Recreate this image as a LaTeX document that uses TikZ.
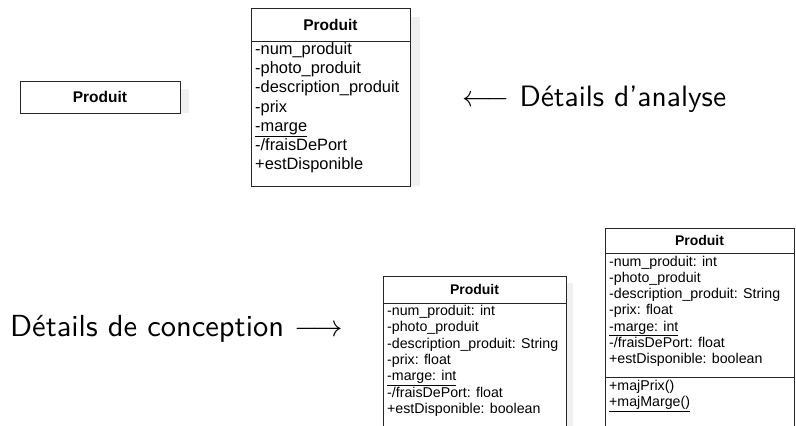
\RequirePackage{fix-cm}
\documentclass[tikz,border=0pt]{standalone}
\usepackage{fontspec}
\newfontfamily\arial{Liberation Sans}
\newfontfamily\lmsten{lmsans10-regular.otf}
\tikzset{
  umlbox/.style={draw=black!85, line width=1pt},
  shade/.style={fill=black!6, draw=none},
  attrA/.style={anchor=mid west, inner sep=0pt, font=\arial\fontsize{16.4}{19}\selectfont},
  attrB/.style={anchor=mid west, inner sep=0pt, font=\arial\fontsize{14.2}{16}\selectfont},
  hdrA/.style={inner sep=0pt, font=\arial\bfseries\fontsize{15.5}{18}\selectfont},
  hdrB/.style={inner sep=0pt, font=\arial\bfseries\fontsize{14}{16}\selectfont},
  big/.style={inner sep=0pt, anchor=base west}
}
\begin{document}
\begin{tikzpicture}[x=1pt,y=-1pt]
\useasboundingbox (0,0) rectangle (796,426);
% shadows
\fill[shade] (180,89) rectangle (189,113);
\fill[shade] (410,17) rectangle (420,186);
\fill[shade] (566,283) rectangle (573,440);
% box 1
\draw[umlbox] (20,81) rectangle (180,113);
\node[hdrA] (p1) at (100,97) {Produit};
% box 2
\draw[umlbox] (251,8) rectangle (410,186);
\draw[umlbox] (251,41) -- (410,41);
\node[hdrA] (p2) at (330.5,24.5) {Produit};
\node[attrA] (a1) at (255,52) {-num\_produit};
\node[attrA] (a2) at (255,71) {-photo\_produit};
\node[attrA] (a3) at (255,90.5) {-description\_produit};
\node[attrA] (a4) at (255,110) {-prix};
\node[attrA] (a5) at (255,129) {\underline{-marge}};
\node[attrA] (a6) at (255,148) {-/fraisDePort};
\node[attrA] (a7) at (255,167.5) {+estDisponible};
% analysis label
\node[big, font=\lmsten\fontsize{29.5}{35}\selectfont] (la) at (462,106) {$\longleftarrow$ Détails d’analyse};
% box 3
\draw[umlbox] (383,440) -- (383,276) -- (566,276) -- (566,440);
\draw[umlbox] (383,303) -- (566,303);
\node[hdrB] (p3) at (474.5,289.5) {Produit};
\node[attrB] (c1) at (387,313.5) {-num\_produit: int};
\node[attrB] (c2) at (387,329.8) {-photo\_produit};
\node[attrB] (c3) at (387,346.1) {-description\_produit: String};
\node[attrB] (c4) at (387,362.4) {-prix: float};
\node[attrB] (c5) at (387,378.7) {\underline{-marge: int}};
\node[attrB] (c6) at (387,395) {-/fraisDePort: float};
\node[attrB] (c7) at (387,411.3) {+estDisponible: boolean};
% design label
\node[big, font=\lmsten\fontsize{30.5}{36}\selectfont] (lc) at (10,336) {Détails de conception $\longrightarrow$};
% box 4
\draw[umlbox] (605,440) -- (605,228) -- (794,228) -- (794,440);
\draw[umlbox] (605,253) -- (794,253);
\draw[umlbox] (605,377) -- (794,377);
\node[hdrB] (p4) at (699.5,240.5) {Produit};
\node[attrB] (d1) at (609,264.5) {-num\_produit: int};
\node[attrB] (d2) at (609,280.6) {-photo\_produit};
\node[attrB] (d3) at (609,296.7) {-description\_produit: String};
\node[attrB] (d4) at (609,312.8) {-prix: float};
\node[attrB] (d5) at (609,328.9) {\underline{-marge: int}};
\node[attrB] (d6) at (609,345) {-/fraisDePort: float};
\node[attrB] (d7) at (609,361.1) {+estDisponible: boolean};
\node[attrB] (m1) at (609,388.5) {+majPrix()};
\node[attrB] (m2) at (609,404.6) {\underline{+majMarge()}};
\end{tikzpicture}
\end{document}
